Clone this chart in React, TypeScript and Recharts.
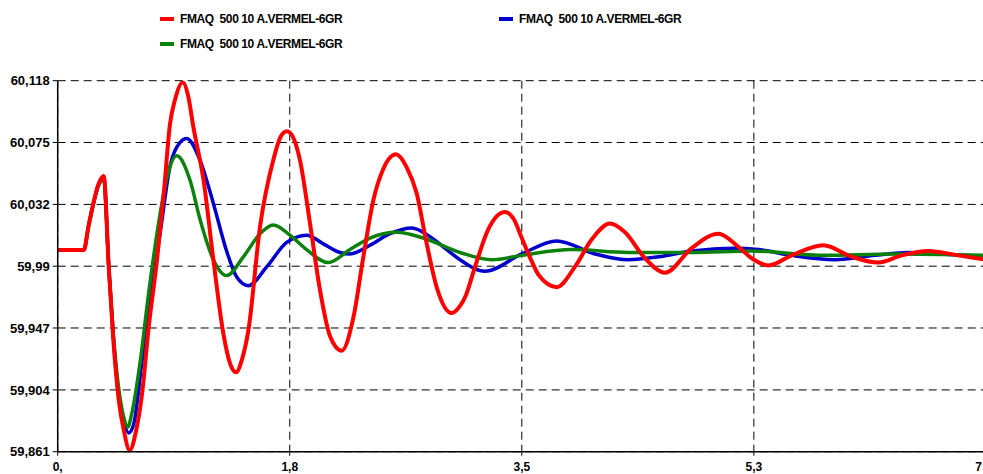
import { CartesianGrid, Line, LineChart, XAxis, YAxis } from "recharts";

const seriesName = "FMAQ  500 10 A.VERMEL-6GR";

const xTicks = [0, 1.75, 3.5, 5.25, 7];
const xTickLabels = ["0,", "1,8", "3,5", "5,3", "7"];

const yTicks = [59.861, 59.9038, 59.9467, 59.9895, 60.0323, 60.0752, 60.118];
const yTickLabels = ["59,861", "59,904", "59,947", "59,99", "60,032", "60,075", "60,118"];

// [time s, frequency Hz]
const redSeries: [number, number][] = [
  [0, 60.0007], [0.196, 60.0007], [0.234, 60.018], [0.31, 60.047], [0.347, 60.052],
  [0.385, 59.989], [0.42, 59.938], [0.46, 59.897], [0.498, 59.876], [0.543, 59.862],
  [0.59, 59.875], [0.636, 59.901], [0.686, 59.947], [0.749, 59.994], [0.8, 60.04],
  [0.847, 60.088], [0.885, 60.105], [0.943, 60.117], [0.985, 60.107], [1.023, 60.086],
  [1.1, 60.049], [1.174, 59.994], [1.249, 59.943], [1.3, 59.922], [1.345, 59.916],
  [1.39, 59.925], [1.438, 59.945], [1.526, 60.017], [1.626, 60.063], [1.68, 60.079],
  [1.727, 60.083], [1.752, 60.082], [1.827, 60.063], [1.903, 60.019], [1.978, 59.973],
  [2.054, 59.941], [2.142, 59.931], [2.23, 59.954], [2.305, 59.996], [2.38, 60.035],
  [2.456, 60.057], [2.552, 60.067], [2.632, 60.058], [2.707, 60.04], [2.783, 60.005],
  [2.858, 59.975], [2.971, 59.957], [3.034, 59.962], [3.072, 59.968], [3.147, 59.989],
  [3.247, 60.015], [3.373, 60.027], [3.44, 60.022], [3.5, 60.009], [3.56, 59.996],
  [3.63, 59.983], [3.763, 59.975], [3.9, 59.989], [4.027, 60.008], [4.165, 60.019],
  [4.278, 60.013], [4.429, 59.995], [4.58, 59.985], [4.781, 60.002], [4.982, 60.012],
  [5.133, 60.003], [5.234, 59.995], [5.36, 59.99], [5.535, 59.997], [5.774, 60.004],
  [5.988, 59.996], [6.19, 59.992], [6.365, 59.997], [6.566, 60.0], [6.79, 59.997],
  [7, 59.994],
];

const blueSeries: [number, number][] = [
  [0, 60.0007], [0.196, 60.0007], [0.234, 60.018], [0.31, 60.046], [0.347, 60.051],
  [0.385, 59.989], [0.42, 59.94], [0.46, 59.9], [0.498, 59.882], [0.535, 59.874],
  [0.573, 59.88], [0.636, 59.924], [0.7, 59.968], [0.772, 60.012], [0.85, 60.06],
  [0.92, 60.075], [0.973, 60.078], [1.073, 60.063], [1.174, 60.033], [1.274, 60.0],
  [1.35, 59.982], [1.438, 59.976], [1.576, 59.989], [1.727, 60.006], [1.877, 60.011],
  [2.003, 60.005], [2.129, 59.999], [2.204, 59.998], [2.355, 60.004], [2.506, 60.012],
  [2.67, 60.016], [2.808, 60.01], [2.934, 60.001], [3.034, 59.994], [3.222, 59.986],
  [3.5, 59.998], [3.763, 60.007], [4.052, 59.998], [4.303, 59.994], [4.53, 59.996],
  [4.781, 60.0], [5.108, 60.002], [5.284, 60.001], [5.535, 59.997], [5.862, 59.994],
  [6.164, 59.997], [6.415, 59.999], [6.667, 59.998], [7, 59.996],
];

const greenSeries: [number, number][] = [
  [0, 60.0007], [0.196, 60.0007], [0.234, 60.018], [0.31, 60.046], [0.347, 60.05],
  [0.385, 59.989], [0.42, 59.942], [0.46, 59.905], [0.498, 59.885], [0.528, 59.878],
  [0.56, 59.888], [0.623, 59.924], [0.686, 59.971], [0.762, 60.02], [0.822, 60.05],
  [0.897, 60.066], [0.998, 60.049], [1.073, 60.022], [1.174, 59.994], [1.274, 59.983],
  [1.4, 59.996], [1.526, 60.012], [1.626, 60.018], [1.752, 60.011], [1.877, 60.001],
  [2.041, 59.992], [2.204, 60.001], [2.355, 60.009], [2.557, 60.013], [2.757, 60.009],
  [3.034, 59.999], [3.273, 59.994], [3.5, 59.997], [3.876, 60.001], [4.303, 59.999],
  [4.781, 59.999], [5.234, 60.0], [5.786, 59.997], [6.29, 59.998], [7, 59.997],
];

const toPoints = (pts: [number, number][]) => pts.map(([t, v]) => ({ t, v }));

const font = "'Liberation Sans', Arial, sans-serif";
const tickStyle = { fontFamily: font, fontWeight: 700, fill: "#000" };

const legendItems = [
  { color: "#ff0000", left: 160, top: 19 },
  { color: "#0000cc", left: 499, top: 18.5 },
  { color: "#0c820c", left: 160, top: 43.5 },
];

const LegendRow = ({ color, left, top }: { color: string; left: number; top: number }) => (
  <div style={{ position: "absolute", left, top: top - 8, height: 16, display: "flex", alignItems: "center" }}>
    <div style={{ width: 14, height: 4, background: color, marginRight: 6 }} />
    <span style={{ fontFamily: font, fontWeight: 700, fontSize: 12, letterSpacing: -0.4, whiteSpace: "pre" }}>
      {seriesName}
    </span>
  </div>
);

// last label sits on the clipped right edge, so pin it inside the view
const XTick = (props: any) => {
  const { x, y, payload, index } = props;
  const last = index === xTicks.length - 1;
  return (
    <text
      x={last ? Math.min(x, 982) : x}
      y={y}
      dy="0.71em"
      textAnchor={last ? "end" : "middle"}
      fontSize={12}
      {...tickStyle}
    >
      {xTickLabels[index] ?? payload.value}
    </text>
  );
};

export default function App() {
  return (
    <div
      style={{
        position: "fixed",
        left: 0,
        top: 0,
        width: 983,
        height: 474,
        overflow: "hidden",
        background: "#fff",
      }}
    >
      {legendItems.map((it, i) => (
        <LegendRow key={i} {...it} />
      ))}
      <LineChart
        width={1000}
        height={474}
        margin={{ top: 80.7, right: 14.1, bottom: 0, left: 0 }}
      >
        <CartesianGrid stroke="#000" strokeDasharray="8 5" />
        <XAxis
          type="number"
          dataKey="t"
          domain={[0, 7]}
          ticks={xTicks}
          height={22.3}
          tickSize={4}
          tickMargin={7}
          tick={<XTick />}
          axisLine={{ stroke: "#000", strokeWidth: 1.5 }}
          tickLine={{ stroke: "#000" }}
          allowDataOverflow
        />
        <YAxis
          type="number"
          domain={[yTicks[0], yTicks[yTicks.length - 1]]}
          ticks={yTicks}
          tickFormatter={(_v, i) => yTickLabels[i]}
          width={57.7}
          tickSize={5}
          tickMargin={3}
          tick={{ ...tickStyle, fontSize: 13 }}
          axisLine={{ stroke: "#000", strokeWidth: 1.5 }}
          tickLine={{ stroke: "#000" }}
          allowDataOverflow
        />
        <Line
          data={toPoints(blueSeries)}
          dataKey="v"
          type="monotone"
          stroke="#0000cc"
          strokeWidth={3.5}
          dot={false}
          isAnimationActive={false}
        />
        <Line
          data={toPoints(greenSeries)}
          dataKey="v"
          type="monotone"
          stroke="#0c820c"
          strokeWidth={3.5}
          dot={false}
          isAnimationActive={false}
        />
        <Line
          data={toPoints(redSeries)}
          dataKey="v"
          type="monotone"
          stroke="#ff0000"
          strokeWidth={4}
          dot={false}
          isAnimationActive={false}
        />
      </LineChart>
    </div>
  );
}
